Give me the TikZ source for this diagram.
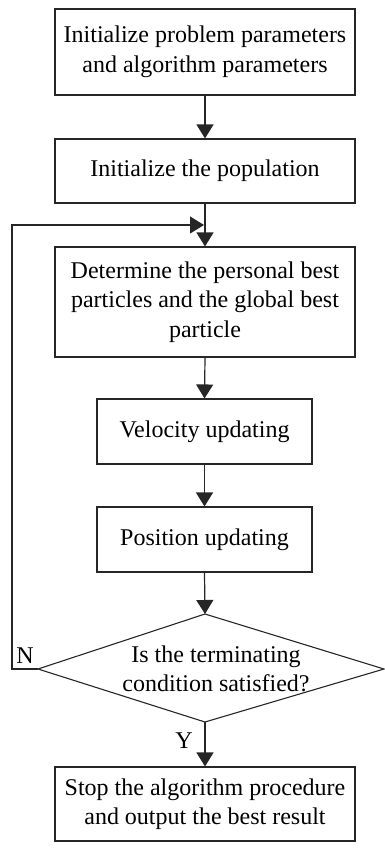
\documentclass[tikz,border=0pt]{standalone}
\usepackage{fontspec}
\setmainfont{Liberation Serif}
\usetikzlibrary{arrows.meta}
\begin{document}
\begin{tikzpicture}[x=1pt,y=-1pt,
  every node/.style={font=\fontsize{24}{29.5}\selectfont},
  box/.style={draw=black!85, line width=1.1pt, align=center, inner sep=0pt, minimum width=#1},
  box/.default=300pt,
  conn/.style={draw=black!85, line width=1.2pt, -{Triangle[width=17pt,length=14pt]}},
  plain/.style={draw=black!85, line width=1.2pt}]
\useasboundingbox (0,0) rectangle (385,848);
\node[box, minimum height=86pt] (b1) at (205,52) {Initialize problem parameters\\and algorithm parameters};
\node[box, minimum height=64pt] (b2) at (205,171) {Initialize the population};
\node[box, minimum height=110pt] (b3) at (205,302) {Determine the personal best\\particles and the global best\\particle};
\node[box=215pt, minimum height=65pt] (b4) at (204.5,431.5) {Velocity updating};
\node[box=215pt, minimum height=65pt] (b5) at (204.5,539.5) {Position updating};
\coordinate (dt) at (205,614);
\coordinate (dl) at (38,669);
\coordinate (dr) at (384,669);
\coordinate (db) at (205,722);
\draw[draw=black!85, line width=1.1pt] (dt) -- (dr) -- (db) -- (dl) -- cycle;
\node[align=center] (dtext) at (216,669) {Is the terminating\\condition satisfied?};
\node[box, minimum height=74pt] (b6) at (205,804) {Stop the algorithm procedure\\and output the best result};
\coordinate (lc) at (12,669);
\coordinate (lt) at (12,225);
\coordinate (lj) at (204,225);
\draw[conn] (b1.south) -- (b2.north);
\draw[conn] (b2.south) -- (b3.north);
\draw[conn] (b3.south) -- (b4.north);
\draw[conn] (b4.south) -- (b5.north);
\draw[conn] (b5.south) -- (dt);
\draw[conn] (db) -- (b6.north);
\draw[conn] (dl) -- (lc) -- (lt) -- (lj);
\node (nlab) at (25,656) {N};
\node (ylab) at (184,741) {Y};
\end{tikzpicture}
\end{document}
